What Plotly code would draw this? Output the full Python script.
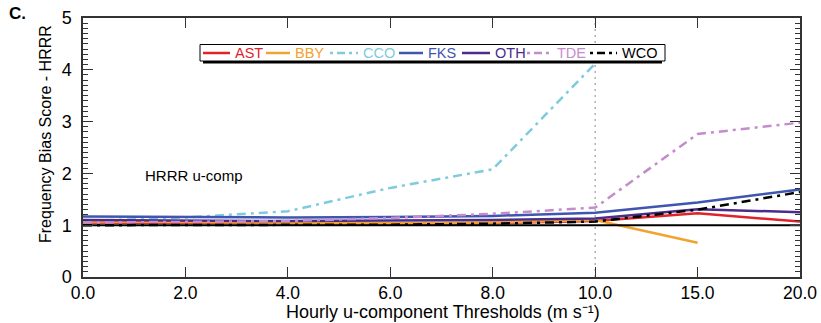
import plotly.graph_objects as go

# Threshold categories (m s-1) shown on the x axis
thresholds = ["0.0", "2.0", "4.0", "6.0", "8.0", "10.0", "15.0", "20.0"]

# Frequency bias score per station
ast = [1.05, 1.04, 1.03, 1.03, 1.04, 1.08, 1.23, 1.07]
bby = [1.07, 1.06, 1.04, 1.04, 1.05, 1.10, 0.66]
cco = [1.08, 1.15, 1.27, 1.72, 2.08, 4.12]
fks = [1.17, 1.16, 1.15, 1.16, 1.18, 1.24, 1.44, 1.69]
oth = [1.10, 1.09, 1.08, 1.09, 1.10, 1.13, 1.31, 1.25]
tde = [1.05, 1.06, 1.08, 1.14, 1.22, 1.34, 2.76, 2.98]
wco = [1.00, 1.00, 1.00, 1.01, 1.03, 1.07, 1.30, 1.64]

DASHDOT = "9px,5px,3px,5px"
series = [
    ("AST", ast, "#e0232b", "solid"),
    ("BBY", bby, "#f2a22e", "solid"),
    ("CCO", cco, "#7fcbdd", DASHDOT),
    ("FKS", fks, "#3f56b0", "solid"),
    ("OTH", oth, "#4a2c8a", "solid"),
    ("TDE", tde, "#c48ccc", DASHDOT),
    ("WCO", wco, "#000000", DASHDOT),
]

FONT = "Liberation Sans, Arial, sans-serif"
W, H = 821, 323
ML, MR, MT, MB = 83, 21, 18, 46
PW, PH = W - ML - MR, H - MT - MB


def px(x):
    return (x - ML) / PW


def py(y):
    return (H - MB - y) / PH


fig = go.Figure()

# unbiased reference line (also anchors the right-hand axis) and 10 m s-1 marker
fig.add_trace(go.Scatter(x=[thresholds[0], thresholds[-1]], y=[1, 1], mode="lines",
                         line=dict(color="black", width=2), showlegend=False,
                         hoverinfo="skip", yaxis="y2"))
fig.add_trace(go.Scatter(x=["10.0", "10.0"], y=[0, 5], mode="lines",
                         line=dict(color="#888888", width=1, dash="2px,4px"),
                         showlegend=False, hoverinfo="skip"))

for name, vals, color, dash in series:
    fig.add_trace(go.Scatter(
        x=thresholds[:len(vals)], y=vals, mode="lines", name=name,
        line=dict(color=color, width=2.5, dash=dash), showlegend=False,
    ))

# boxed legend with drop shadow
shapes = [
    dict(type="rect", xref="paper", yref="paper", x0=px(203), x1=px(662),
         y0=py(63.5), y1=py(47), fillcolor="black", line=dict(width=0)),
    dict(type="rect", xref="paper", yref="paper", x0=px(200), x1=px(665),
         y0=py(61), y1=py(44.5), fillcolor="white", line=dict(color="black", width=1)),
]
annotations = []
legend_slots = [(203, 230), (266, 290), (330, 358), (399, 423), (462, 490), (527, 552), (590, 617)]
for (name, _, color, dash), (lx0, lx1) in zip(series, legend_slots):
    shapes.append(dict(type="line", xref="paper", yref="paper", x0=px(lx0), x1=px(lx1),
                       y0=py(53), y1=py(53),
                       line=dict(color=color, width=2.5, dash=dash if dash == "solid" else "3px,4px,8px,4px")))
    annotations.append(dict(x=px(lx1 + 3), y=py(53), xref="paper", yref="paper", text=name,
                            showarrow=False, xanchor="left", yanchor="middle",
                            font=dict(family=FONT, size=14.5, color=color)))

annotations += [
    dict(x=px(143), y=py(175), xref="paper", yref="paper", text="HRRR u-comp",
         showarrow=False, xanchor="left", yanchor="middle",
         font=dict(family=FONT, size=15, color="black")),
    dict(x=px(7), y=py(13), xref="paper", yref="paper", text="<b>C.</b>",
         showarrow=False, xanchor="left", yanchor="middle",
         font=dict(family=FONT, size=17, color="black")),
    dict(x=px(443), y=py(323), xref="paper", yref="paper",
         text="Hourly u-component Thresholds (m s\u207b\u00b9)",
         showarrow=False, xanchor="center", yanchor="bottom", borderpad=0,
         font=dict(family=FONT, size=18, color="black")),
    dict(x=px(45), y=py(134), xref="paper", yref="paper", textangle=-90,
         text="Frequency Bias Score - HRRR",
         showarrow=False, xanchor="center", yanchor="middle",
         font=dict(family=FONT, size=16, color="black")),
]

AX = "#333333"
fig.update_layout(
    width=W, height=H,
    margin=dict(l=ML, r=MR, t=MT, b=MB),
    paper_bgcolor="white", plot_bgcolor="white",
    font=dict(family=FONT, size=18, color="black"),
    showlegend=False,
    shapes=shapes, annotations=annotations,
    xaxis=dict(type="category", range=[0, 7], categoryorder="array",
               categoryarray=thresholds, tickvals=thresholds, ticktext=thresholds,
               ticks="inside", ticklen=10, tickcolor=AX, tickwidth=1.3, showgrid=False,
               showline=True, linecolor=AX, linewidth=1.5, mirror="ticks",
               automargin=False, ticklabelstandoff=-1, tickfont=dict(size=17.5)),
    yaxis=dict(range=[0, 5], dtick=1, ticks="inside", ticklen=10, tickcolor=AX,
               tickwidth=1.3, showgrid=False, zeroline=False, showline=True,
               linecolor=AX, linewidth=1.5, mirror=True, automargin=False,
               ticklabelstandoff=6,
               minor=dict(dtick=0.1, ticks="inside", ticklen=5, tickcolor=AX),
               tickfont=dict(size=18)),
    yaxis2=dict(range=[0, 5], dtick=1, overlaying="y", side="right", anchor="x",
                ticks="inside", ticklen=10, tickcolor=AX, tickwidth=1.3,
                showticklabels=False, showgrid=False, zeroline=False, showline=False,
                minor=dict(dtick=0.1, ticks="inside", ticklen=5, tickcolor=AX),
                automargin=False),
)

fig.write_html("out.html")
